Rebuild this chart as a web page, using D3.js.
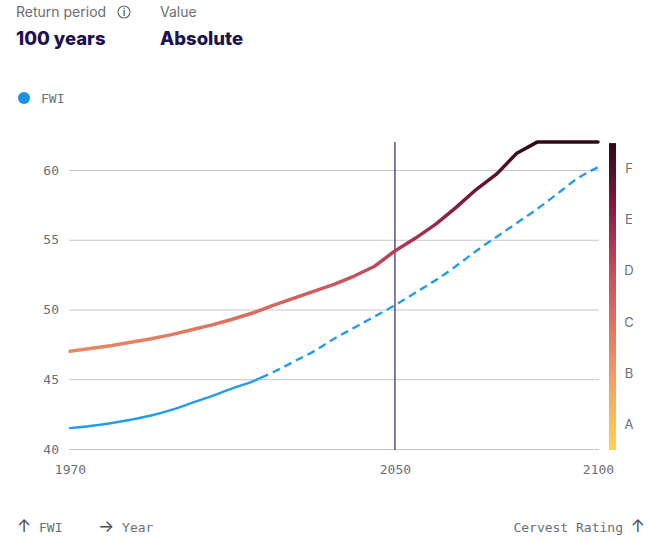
<!DOCTYPE html>
<html>
<head>
<meta charset="utf-8">
<style>
  body { margin: 0; background: #fff; }
  svg { display: block; }
</style>
</head>
<body>
<div id="chart"></div>
<script src="https://cdn.jsdelivr.net/npm/d3@7/dist/d3.min.js"></script>
<script>
// data
var years = [1970, 1975, 1980, 1985, 1990, 1995, 2000, 2005, 2010, 2015, 2020, 2025, 2030, 2035,
             2040, 2045, 2050, 2055, 2060, 2065, 2070, 2075, 2080, 2085, 2090, 2095, 2100];
var ratingFwi = [47.0, 47.2, 47.4, 47.65, 47.9, 48.2, 48.55, 48.9, 49.3, 49.75, 50.3, 50.8, 51.3, 51.8,
                 52.4, 53.1, 54.2, 55.1, 56.1, 57.3, 58.6, 59.7, 61.2, 62, 62, 62, 62];
var fwi = [41.5, 41.65, 41.85, 42.1, 42.4, 42.8, 43.3, 43.8, 44.35, 44.85, 45.5, 46.25, 47.0, 47.9,
           48.7, 49.5, 50.3, 51.2, 52.1, 53.1, 54.2, 55.2, 56.2, 57.2, 58.3, 59.4, 60.2];
var observedUntil = 2017;
var markerYear = 2050;
var xTicks = [1970, 2050, 2100];
var yTicks = [40, 45, 50, 55, 60];
var ratingLabels = ["A", "B", "C", "D", "E", "F"];
var ratingColors = ["#fdd24f", "#f3a764", "#de7562", "#c2495b", "#82193f", "#2e0a19"];

var width = 648, height = 540;

var svg = d3.select("#chart").append("svg")
  .attr("width", width)
  .attr("height", height);

var x = d3.scaleLinear().domain([1970, 2100]).range([70, 598]);
var y = d3.scaleLinear().domain([40, 60]).range([449, 170]);
var yTop = 62;

var mono = "'DejaVu Sans Mono', 'Liberation Mono', monospace";
var sans = "Inter, 'Noto Sans', sans-serif";
var grey = "#6b6e75";

// header
var head = svg.append("g").attr("font-family", sans);
head.append("text").attr("x", 16).attr("y", 17).attr("font-size", 14).attr("fill", grey).text("Return period");
head.append("circle").attr("cx", 124).attr("cy", 12).attr("r", 6).attr("fill", "none").attr("stroke", grey).attr("stroke-width", 1.2);
head.append("text").attr("x", 124).attr("y", 16).attr("text-anchor", "middle").attr("font-size", 10)
  .attr("font-weight", 700).attr("fill", grey).text("i");
head.append("text").attr("x", 160).attr("y", 17).attr("font-size", 14).attr("fill", grey).text("Value");
head.append("text").attr("x", 16).attr("y", 45).attr("font-size", 18.5).attr("font-weight", 800)
  .attr("fill", "#1d1250").text("100 years");
head.append("text").attr("x", 160).attr("y", 45).attr("font-size", 18.5).attr("font-weight", 800)
  .attr("fill", "#1d1250").text("Absolute");

// legend
svg.append("circle").attr("cx", 24).attr("cy", 98).attr("r", 6).attr("fill", "#1c92e6");
svg.append("text").attr("x", 41).attr("y", 103).attr("font-family", mono).attr("font-size", 13)
  .attr("fill", grey).text("FWI");

// grid + y axis
var yAxis = d3.axisLeft(y).tickValues(yTicks).tickSize(-(x.range()[1] - x.range()[0] + 2)).tickPadding(10);
var gy = svg.append("g").attr("transform", "translate(" + (x.range()[0] - 1) + ",0)").call(yAxis);
gy.select(".domain").remove();
gy.selectAll(".tick line").attr("stroke", "#c3c6cf").attr("stroke-width", 1.2);
gy.selectAll(".tick text").attr("font-family", mono).attr("font-size", 13).attr("fill", grey);

// x axis labels
var xAxis = d3.axisBottom(x).tickValues(xTicks).tickFormat(d3.format("d")).tickSize(0).tickPadding(16);
var gx = svg.append("g").attr("transform", "translate(0," + y(40) + ")").call(xAxis);
gx.select(".domain").remove();
gx.selectAll(".tick text").attr("font-family", mono).attr("font-size", 13).attr("fill", grey);

// 2050 marker
svg.append("line")
  .attr("x1", x(markerYear)).attr("x2", x(markerYear))
  .attr("y1", y(yTop)).attr("y2", y(40) + 1)
  .attr("stroke", "#3e3670").attr("stroke-width", 1.3);

// rating gradient (value based)
var defs = svg.append("defs");
var grad = defs.append("linearGradient").attr("id", "ratingGrad")
  .attr("gradientUnits", "userSpaceOnUse")
  .attr("x1", 0).attr("x2", 0).attr("y1", y(40)).attr("y2", y(yTop));
grad.selectAll("stop").data(ratingColors).enter().append("stop")
  .attr("offset", function(d, i) { return i / (ratingColors.length - 1); })
  .attr("stop-color", function(d) { return d; });

var line = d3.line()
  .x(function(d) { return x(d[0]); })
  .y(function(d) { return y(d[1]); })
  .curve(d3.curveMonotoneX);

// FWI series, observed part solid, projection dashed
var fwiPts = years.map(function(yr, i) { return [yr, fwi[i]]; });
var splitVal = fwi[years.indexOf(2015)] + (fwi[years.indexOf(2020)] - fwi[years.indexOf(2015)]) * (observedUntil - 2015) / 5;
var obs = fwiPts.filter(function(d) { return d[0] <= observedUntil; }).concat([[observedUntil, splitVal]]);
var proj = [[observedUntil, splitVal]].concat(fwiPts.filter(function(d) { return d[0] > observedUntil; }));

svg.append("path").datum(obs).attr("d", line)
  .attr("fill", "none").attr("stroke", "#219dec").attr("stroke-width", 2.4).attr("stroke-linecap", "round");
svg.append("path").datum(proj).attr("d", line)
  .attr("fill", "none").attr("stroke", "#219dec").attr("stroke-width", 2.4).attr("stroke-dasharray", "8,5");

// rating line
svg.append("path").datum(years.map(function(yr, i) { return [yr, ratingFwi[i]]; }))
  .attr("d", line.curve(d3.curveLinear))
  .attr("fill", "none").attr("stroke", "url(#ratingGrad)").attr("stroke-width", 3.5)
  .attr("stroke-linecap", "round").attr("stroke-linejoin", "round");

// colour bar
var barGrad = defs.append("linearGradient").attr("id", "barGrad")
  .attr("x1", 0).attr("x2", 0).attr("y1", 1).attr("y2", 0);
barGrad.selectAll("stop").data(ratingColors).enter().append("stop")
  .attr("offset", function(d, i) { return i / (ratingColors.length - 1); })
  .attr("stop-color", function(d) { return d; });
svg.append("rect").attr("x", 609).attr("y", y(yTop) + 1).attr("width", 7)
  .attr("height", y(40) - y(yTop)).attr("fill", "url(#barGrad)");

var rScale = d3.scalePoint().domain(ratingLabels).range([424, 168]);
svg.append("g").selectAll("text").data(ratingLabels).enter().append("text")
  .attr("x", 629).attr("y", function(d) { return rScale(d) + 5; })
  .attr("text-anchor", "middle").attr("font-family", sans).attr("font-size", 13)
  .attr("fill", grey).text(function(d) { return d; });

// footer
var foot = svg.append("g").attr("font-family", mono).attr("font-size", 13).attr("fill", grey);
function arrowText(g, xPos, anchor, parts) {
  var t = g.append("text").attr("x", xPos).attr("y", 532).attr("text-anchor", anchor);
  parts.forEach(function(p) {
    var s = t.append("tspan").text(p.text);
    if (p.arrow) s.attr("font-family", sans).attr("font-size", 17).attr("fill", "#4a4d55");
  });
}
arrowText(foot, 17, "start", [{text: "\u2191", arrow: true}, {text: " FWI"}]);
arrowText(foot, 98, "start", [{text: "\u2192", arrow: true}, {text: " Year"}]);
arrowText(foot, 645, "end", [{text: "Cervest Rating "}, {text: "\u2191", arrow: true}]);
</script>
</body>
</html>
